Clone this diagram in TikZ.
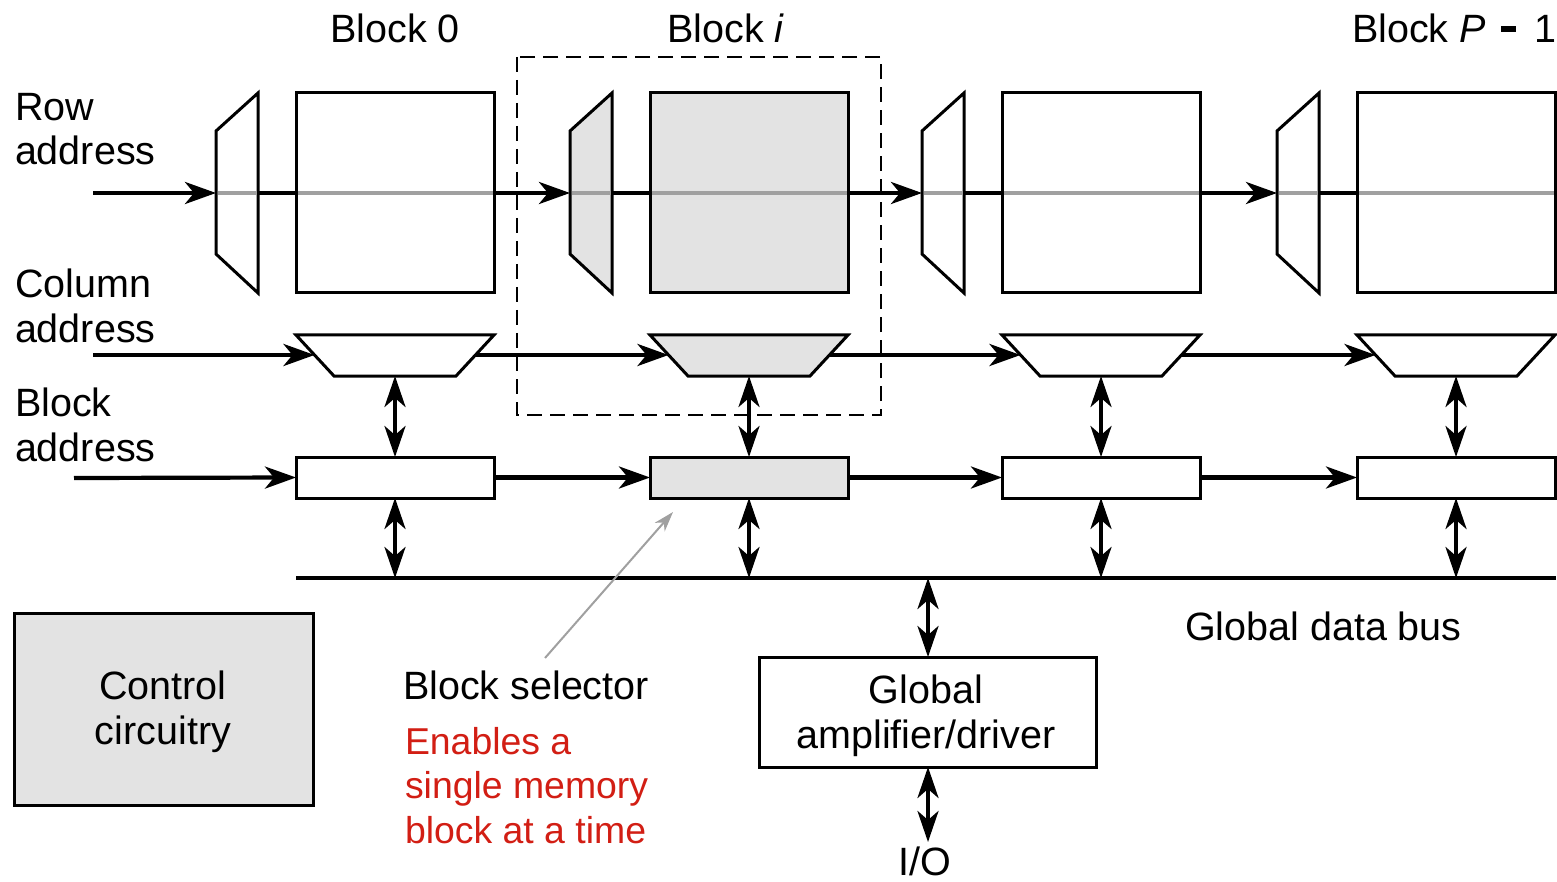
\documentclass[tikz,border=0pt]{standalone}
\usepackage{fontspec}
\setmainfont{Liberation Sans}
\usetikzlibrary{arrows.meta}
\definecolor{shade}{HTML}{E3E3E3}
\definecolor{wire}{HTML}{A0A0A0}
\definecolor{note}{HTML}{D21E14}
\begin{document}
\begin{tikzpicture}[x=1pt,y=-1pt,
  lbl/.style={font=\fontsize{39.5}{44.5}\selectfont, inner sep=0pt, outer sep=0pt},
  box/.style={draw, line width=3pt, inner sep=0pt, outer sep=0pt},
  memblk/.style={box, minimum width=198pt, minimum height=200pt},
  selblk/.style={box, minimum width=198pt, minimum height=41pt},
  dec/.style={draw, line width=3pt, line join=miter},
  wireblk/.style={line width=4.2pt},
  wiregray/.style={line width=4pt, draw=wire, shorten <=1.5pt, shorten >=1.5pt},
  sig/.style={wireblk, -{Stealth[length=31pt,width=22pt,inset=9pt]}},
  bidir/.style={line width=4pt, {Stealth[length=31pt,width=21pt,inset=9pt]}-{Stealth[length=31pt,width=21pt,inset=9pt]}},
]
\useasboundingbox (0,0) rectangle (1557,882);

% titles
\node[lbl, anchor=north] (t0) at (395,14) {Block 0};
\node[lbl, anchor=north] (ti) at (726,14) {Block \textit{i}};
\node[lbl, anchor=north east] (tp) at (1556,14) {Block \textit{P}\hspace{15pt}\rule[11pt]{15pt}{5.5pt}\hspace{18pt}1};
\node[lbl, anchor=north west, align=left] (lrow) at (15,93) {Row\\address};
\node[lbl, anchor=north west, align=left] (lcol) at (15,269) {Column\\address};
\node[lbl, anchor=north west, align=left] (lblk) at (15,388) {Block\\address};

% blocks
\foreach \i/\x/\f in {0/296/white,1/650/shade,2/1002/white,3/1357/white}{
  \node[memblk, fill=\f, anchor=north west] (mem\i) at (\x,93) {};
  \draw[dec, fill=\f] (\x-80,131) -- (\x-38,93) -- (\x-38,293) -- (\x-80,254) -- cycle;
  \coordinate (rowin\i) at (\x-80,193);
  \coordinate (rowout\i) at (\x-38,193);
  \draw[dec, fill=\f] (\x,335) -- (\x+198,335) -- (\x+160,376) -- (\x+38,376) -- cycle;
  \coordinate (colin\i) at (\x+18.5,355);
  \coordinate (colout\i) at (\x+179.5,355);
  \coordinate (colbot\i) at (\x+99,376);
  \node[selblk, fill=\f, anchor=north west] (sel\i) at (\x,457) {};
  \coordinate (bus\i) at (\x+99,578);
}

% row address path
\coordinate (rowsrc) at (93,193);
\draw[sig] (rowsrc) -- (rowin0);
\draw[sig] (mem0.east) -- (rowin1);
\draw[sig] (mem1.east) -- (rowin2);
\draw[sig] (mem2.east) -- (rowin3);
\foreach \i in {0,...,3}{
  \draw[wireblk] (rowout\i) -- (mem\i.west);
  \draw[wiregray] (rowin\i) -- (rowout\i);
  \draw[wiregray] (mem\i.west) -- (mem\i.east);
}

% column address path
\coordinate (colsrc) at (93,355);
\draw[sig] (colsrc) -- (colin0);
\draw[sig] (colout0) -- (colin1);
\draw[sig] (colout1) -- (colin2);
\draw[sig] (colout2) -- (colin3);

% block address path
\coordinate (blksrc) at (74,478);
\draw[sig] (blksrc) -- (sel0.west);
\draw[sig] (sel0.east) -- (sel1.west);
\draw[sig] (sel1.east) -- (sel2.west);
\draw[sig] (sel2.east) -- (sel3.west);

% bus
\coordinate (busL) at (296,578);
\coordinate (busR) at (1556,578);
\draw[line width=3.2pt] (busL) -- (busR);
\foreach \i in {0,...,3}{
  \draw[bidir] (colbot\i) -- (sel\i.north);
  \draw[bidir] (sel\i.south) -- (bus\i);
}

% global amplifier
\node[box, minimum width=337pt, minimum height=110pt] (gamp) at (928,712) {};
\node[lbl, align=center] (gamptxt) at (926,716) {Global\\amplifier/driver};
\coordinate (gbus) at (928,578);
\draw[bidir] (gbus) -- (gamp.north);
\node[lbl, anchor=north] (io) at (925,847) {I/O};
\coordinate (ioend) at (928,842);
\draw[bidir] (gamp.south) -- (ioend);

\node[lbl, anchor=north west] (gdb) at (1185,612) {Global data bus};

% control
\node[box, fill=shade, minimum width=299pt, minimum height=192pt] (ctrl) at (163.5,709) {};
\node[lbl, align=center] (ctrltxt) at (163,712) {Control\\circuitry};

% block selector note
\node[lbl, anchor=north west] (bsel) at (403,671) {Block selector};
\node[lbl, anchor=north west, align=left, text=note, font=\fontsize{37.4}{44.5}\selectfont] (bnote) at (405,727) {Enables a\\single memory\\block at a time};
\coordinate (ptrsrc) at (545,658);
\coordinate (ptrtip) at (673,512);
\draw[line width=2pt, draw=wire, -{Stealth[length=20pt,width=13pt,inset=6pt]}] (ptrsrc) -- (ptrtip);

% selected block frame
\draw[line width=2.8pt, dash pattern=on 15pt off 8pt] (517,57) rectangle (881,415);
\end{tikzpicture}
\end{document}
